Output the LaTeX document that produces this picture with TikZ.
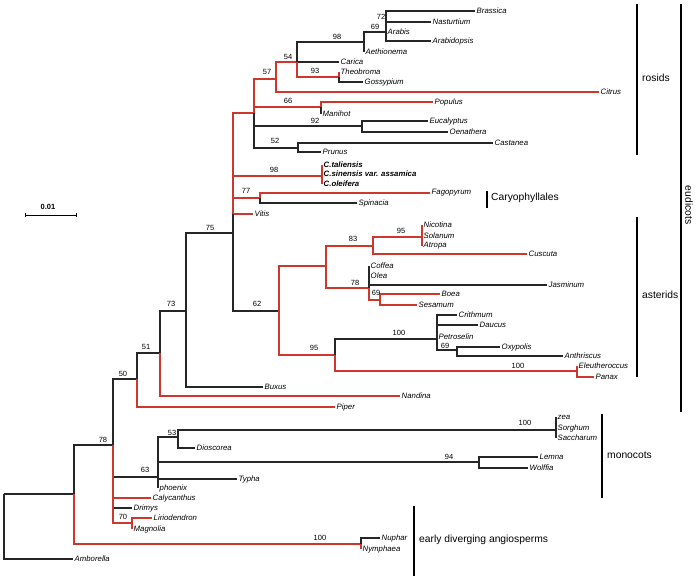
\documentclass[tikz,border=0pt]{standalone}
\usepackage{fontspec}
\setmainfont{Liberation Sans}
\usepackage{tikz}
\usetikzlibrary{arrows.meta, positioning}
\definecolor{treered}{RGB}{205,55,45}

\begin{document}
\begin{tikzpicture}[
			x=1pt, y=-1pt,
			every node/.style={font=\fontsize{7.8}{9}\selectfont},
			br/.style={line width=1.3pt, draw=black!85},
			rd/.style={line width=1.3pt, draw=treered},
			leaf/.style={anchor=west, inner sep=1.5pt, font=\fontsize{7.8}{9}\selectfont\itshape},
			camel/.style={leaf, font=\fontsize{7.8}{9}\selectfont\bfseries\itshape},
			boot/.style={inner sep=0pt, font=\fontsize{7.5}{9}\selectfont},
			grp/.style={anchor=west, inner sep=0pt, font=\fontsize{10.3}{12}\selectfont},
			bar/.style={line width=2.2pt}
			]
			
			\useasboundingbox (0,0) rectangle (697,581);
			
			% Nodos internos
			\coordinate (root) at (4,494);
			\coordinate (nAng) at (74,494);
			\coordinate (nMes) at (113,445);
			\coordinate (n50) at (137,379);
			\coordinate (n51) at (160,353);
			\coordinate (n73) at (186,311);
			\coordinate (n75) at (233,233);
			\coordinate (nRos) at (254,113);
			\coordinate (n57) at (276,79);
			\coordinate (n54) at (297,62);
			\coordinate (n98r) at (364,42);
			\coordinate (n69b) at (386,32);
			\coordinate (n93) at (339,77);
			\coordinate (n66) at (321,107);
			\coordinate (n92) at (362,126);
			\coordinate (n52) at (298,148);
			\coordinate (nCam) at (322,176);
			\coordinate (n77) at (260,198);
			\coordinate (n62) at (279,311);
			\coordinate (nAst) at (326,266);
			\coordinate (n83) at (373,246);
			\coordinate (n95s) at (422,237);
			\coordinate (n78l) at (369,288);
			\coordinate (n69l) at (380,300);
			\coordinate (n95a) at (335,355);
			\coordinate (n100a) at (437,339);
			\coordinate (n69a) at (457,350);
			\coordinate (n100b) at (577,371);
			\coordinate (n63) at (158,477);
			\coordinate (n53) at (178,437);
			\coordinate (n100m) at (556,430);
			\coordinate (n94) at (479,462);
			\coordinate (n70) at (132,523);
			\coordinate (nNym) at (361,544);
			
			% Hojas
			\node[leaf] (brassica) at (475,11) {Brassica};
			\node[leaf] (nasturtium) at (431,22) {Nasturtium};
			\node[leaf] (arabis) at (386,32) {Arabis};
			\node[leaf] (arabidopsis) at (431,41) {Arabidopsis};
			\node[leaf] (aethionema) at (364,52) {Aethionema};
			\node[leaf] (carica) at (339,62) {Carica};
			\node[leaf] (theobroma) at (339,72) {Theobroma};
			\node[leaf] (gossypium) at (363,82) {Gossypium};
			\node[leaf] (citrus) at (599,92) {Citrus};
			\node[leaf] (populus) at (433,102) {Populus};
			\node[leaf] (manihot) at (321,114) {Manihot};
			\node[leaf] (eucalyptus) at (428,121) {Eucalyptus};
			\node[leaf] (oenathera) at (448,132) {Oenathera};
			\node[leaf] (castanea) at (493,143) {Castanea};
			\node[leaf] (prunus) at (321,152) {Prunus};
			\node[camel] (taliensis) at (322,165) {C.taliensis};
			\node[camel] (sinensis) at (322,174) {C.sinensis var. assamica};
			\node[camel] (oleifera) at (322,184) {C.oleifera};
			\node[leaf] (fagopyrum) at (430,193) {Fagopyrum};
			\node[leaf] (spinacia) at (357,203) {Spinacia};
			\node[leaf] (vitis) at (253,214) {Vitis};
			\node[leaf] (nicotina) at (422,225) {Nicotina};
			\node[leaf] (solanum) at (422,236) {Solanum};
			\node[leaf] (atropa) at (422,246) {Atropa};
			\node[leaf] (cuscuta) at (527,254) {Cuscuta};
			\node[leaf] (coffea) at (369,266) {Coffea};
			\node[leaf] (olea) at (369,276) {Olea};
			\node[leaf] (jasminum) at (547,285) {Jasminum};
			\node[leaf] (boea) at (440,294) {Boea};
			\node[leaf] (sesamum) at (417,305) {Sesamum};
			\node[leaf] (crithmum) at (457,315) {Crithmum};
			\node[leaf] (daucus) at (478,325) {Daucus};
			\node[leaf] (petroselin) at (437,337) {Petroselin};
			\node[leaf] (oxypolis) at (500,347) {Oxypolis};
			\node[leaf] (anthriscus) at (563,356) {Anthriscus};
			\node[leaf] (eleutherococcus) at (577,366) {Eleutheroccus};
			\node[leaf] (panax) at (594,377) {Panax};
			\node[leaf] (buxus) at (263,387) {Buxus};
			\node[leaf] (nandina) at (400,396) {Nandina};
			\node[leaf] (piper) at (335,407) {Piper};
			\node[leaf] (zea) at (556,417) {zea};
			\node[leaf] (sorghum) at (556,428) {Sorghum};
			\node[leaf] (saccharum) at (556,438) {Saccharum};
			\node[leaf] (dioscorea) at (195,448) {Dioscorea};
			\node[leaf] (lemna) at (538,457) {Lemna};
			\node[leaf] (wolffia) at (528,468) {Wolffia};
			\node[leaf] (typha) at (237,479) {Typha};
			\node[leaf] (phoenix) at (158,488) {phoenix};
			\node[leaf] (calycanthus) at (151,498) {Calycanthus};
			\node[leaf] (drimys) at (132,508) {Drimys};
			\node[leaf] (liriodendron) at (152,518) {Liriodendron};
			\node[leaf] (magnolia) at (132,529) {Magnolia};
			\node[leaf] (nuphar) at (380,538) {Nuphar};
			\node[leaf] (nymphaea) at (361,549) {Nymphaea};
			\node[leaf] (amborella) at (73,559) {Amborella};
			
			% Ramas
			\draw[br] (root) -- (nAng);
			\draw[br] (root) |- (amborella.west);
			\draw[br] (nAng) |- (nMes);
			\draw[rd] (nAng) |- (nNym);
			\draw[br] (nNym) |- (nuphar.west);
			\draw[rd] (nNym) |- (nymphaea.west);
			\draw[br] (nMes) |- (n50);
			\draw[br] (nMes) |- (n63);
			\draw[br] (nMes) |- (drimys.west);
			\draw[rd] (nMes) |- (calycanthus.west);
			\draw[rd] (nMes) |- (n70);
			\draw[rd] (n70) |- (liriodendron.west);
			\draw[rd] (n70) |- (magnolia.west);
			\draw[br] (n63) |- (n53);
			\draw[br] (n63) |- (n94);
			\draw[br] (n63) |- (typha.west);
			\draw[br] (n63) |- (phoenix.west);
			\draw[br] (n53) |- (n100m);
			\draw[br] (n53) |- (dioscorea.west);
			\draw[br] (n100m) |- (zea.west);
			\draw[br] (n100m) |- (saccharum.west);
			\draw[br] (n94) |- (lemna.west);
			\draw[br] (n94) |- (wolffia.west);
			\draw[br] (n50) |- (n51);
			\draw[rd] (n50) |- (piper.west);
			\draw[br] (n51) |- (n73);
			\draw[rd] (n51) |- (nandina.west);
			\draw[br] (n73) |- (n75);
			\draw[br] (n73) |- (buxus.west);
			\draw[rd] (n75) |- (nRos);
			\draw[rd] (n75) |- (nCam);
			\draw[rd] (n75) |- (n77);
			\draw[rd] (n75) |- (vitis.west);
			\draw[br] (n75) |- (n62);
			\draw[br] (n75) -- (n75 |- vitis.west);
			\draw[br] (nRos) |- (n92);
			\draw[br] (nRos) |- (n52);
			\draw[rd] (nRos) |- (n57);
			\draw[rd] (nRos) |- (n66);
			\draw[rd] (n57) |- (n54);
			\draw[rd] (n57) |- (citrus.west);
			\draw[br] (n54) |- (n98r);
			\draw[br] (n54) -- (carica.west);
			\draw[rd] (n54) |- (n93);
			\draw[rd] (n93) |- (theobroma.west);
			\draw[br] (n93) |- (gossypium.west);
			\draw[br] (n98r) |- (n69b);
			\draw[br] (n98r) |- (aethionema.west);
			\draw[br] (n69b) |- (brassica.west);
			\draw[br] (n69b) |- (nasturtium.west);
			\draw[br] (n69b) |- (arabidopsis.west);
			\draw[rd] (n66) |- (populus.west);
			\draw[br] (n66) |- (manihot.west);
			\draw[br] (n92) |- (eucalyptus.west);
			\draw[br] (n92) |- (oenathera.west);
			\draw[br] (n52) |- (castanea.west);
			\draw[br] (n52) |- (prunus.west);
			\draw[rd] (nCam) |- (taliensis.west);
			\draw[rd] (nCam) |- (oleifera.west);
			\draw[br] (n77) |- (spinacia.west);
			\draw[rd] (n77) |- (fagopyrum.west);
			\draw[rd] (n62) |- (nAst);
			\draw[rd] (n62) |- (n95a);
			\draw[rd] (nAst) |- (n83);
			\draw[rd] (nAst) |- (n78l);
			\draw[rd] (n83) |- (n95s);
			\draw[rd] (n83) |- (cuscuta.west);
			\draw[rd] (n95s) |- (nicotina.west);
			\draw[rd] (n95s) |- (atropa.west);
			\draw[br] (n78l) |- (coffea.west);
			\draw[br] (n78l) |- (jasminum.west);
			\draw[rd] (n78l) |- (n69l);
			\draw[rd] (n69l) |- (boea.west);
			\draw[rd] (n69l) |- (sesamum.west);
			\draw[br] (n95a) |- (n100a);
			\draw[rd] (n95a) |- (n100b);
			\draw[br] (n100a) |- (crithmum.west);
			\draw[br] (n100a) |- (daucus.west);
			\draw[br] (n100a) |- (n69a);
			\draw[br] (n69a) |- (oxypolis.west);
			\draw[br] (n69a) |- (anthriscus.west);
			\draw[rd] (n100b) |- (eleutherococcus.west);
			\draw[rd] (n100b) |- (panax.west);
			
			% Soportes
			\node[boot] (b72) at (381,17) {72};
			\node[boot] (b69b) at (375,27) {69};
			\node[boot] (b98r) at (337,37) {98};
			\node[boot] (b54) at (288,57) {54};
			\node[boot] (b57) at (267,72) {57};
			\node[boot] (b93) at (315,71) {93};
			\node[boot] (b66) at (288,101) {66};
			\node[boot] (b92) at (315,121) {92};
			\node[boot] (b52) at (275,141) {52};
			\node[boot] (b98c) at (274,170) {98};
			\node[boot] (b77) at (246,191) {77};
			\node[boot] (b75) at (210,228) {75};
			\node[boot] (b73) at (171,304) {73};
			\node[boot] (b62) at (257,304) {62};
			\node[boot] (b83) at (353,239) {83};
			\node[boot] (b95s) at (401,231) {95};
			\node[boot] (b78l) at (355,283) {78};
			\node[boot] (b69l) at (376,293) {69};
			\node[boot] (b95a) at (314,348) {95};
			\node[boot] (b100a) at (399,333) {100};
			\node[boot] (b69a) at (445,346) {69};
			\node[boot] (b100b) at (518,366) {100};
			\node[boot] (b51) at (146,347) {51};
			\node[boot] (b50) at (123,374) {50};
			\node[boot] (b53) at (172,433) {53};
			\node[boot] (b63) at (145,470) {63};
			\node[boot] (b100m) at (525,423) {100};
			\node[boot] (b94) at (449,457) {94};
			\node[boot] (b78) at (103,440) {78};
			\node[boot] (b70) at (123,517) {70};
			\node[boot] (b100n) at (320,538) {100};
			
			% Escala
			\coordinate (sbL) at (25,215);
			\coordinate (sbR) at (77,215);
			\draw[line width=0.9pt, {Bar[width=4pt]}-{Bar[width=4pt]}] (sbL) -- (sbR);
			\node[boot, font=\fontsize{7.5}{9}\selectfont\bfseries] (scale) at (48,207) {0.01};
			
			% Grupos
			\draw[bar] (637,4) -- (637,155);
			\node[grp] (rosids) at (642,78) {rosids};
			\draw[bar] (487,191) -- (487,208);
			\node[grp] (caryo) at (491,198) {Caryophyllales};
			\draw[bar] (637,217) -- (637,377);
			\node[grp] (asterids) at (642,295) {asterids};
			\draw[bar] (681,4) -- (681,412);
			\node[grp, anchor=center, rotate=-90] (eudicots) at (689,205) {eudicots};
			\draw[bar] (602,414) -- (602,498);
			\node[grp] (monocots) at (607,455) {monocots};
			\draw[bar] (414,506) -- (414,576);
			\node[grp] (early) at (419,540) {early diverging angiosperms};
			
		\end{tikzpicture}
\end{document}
